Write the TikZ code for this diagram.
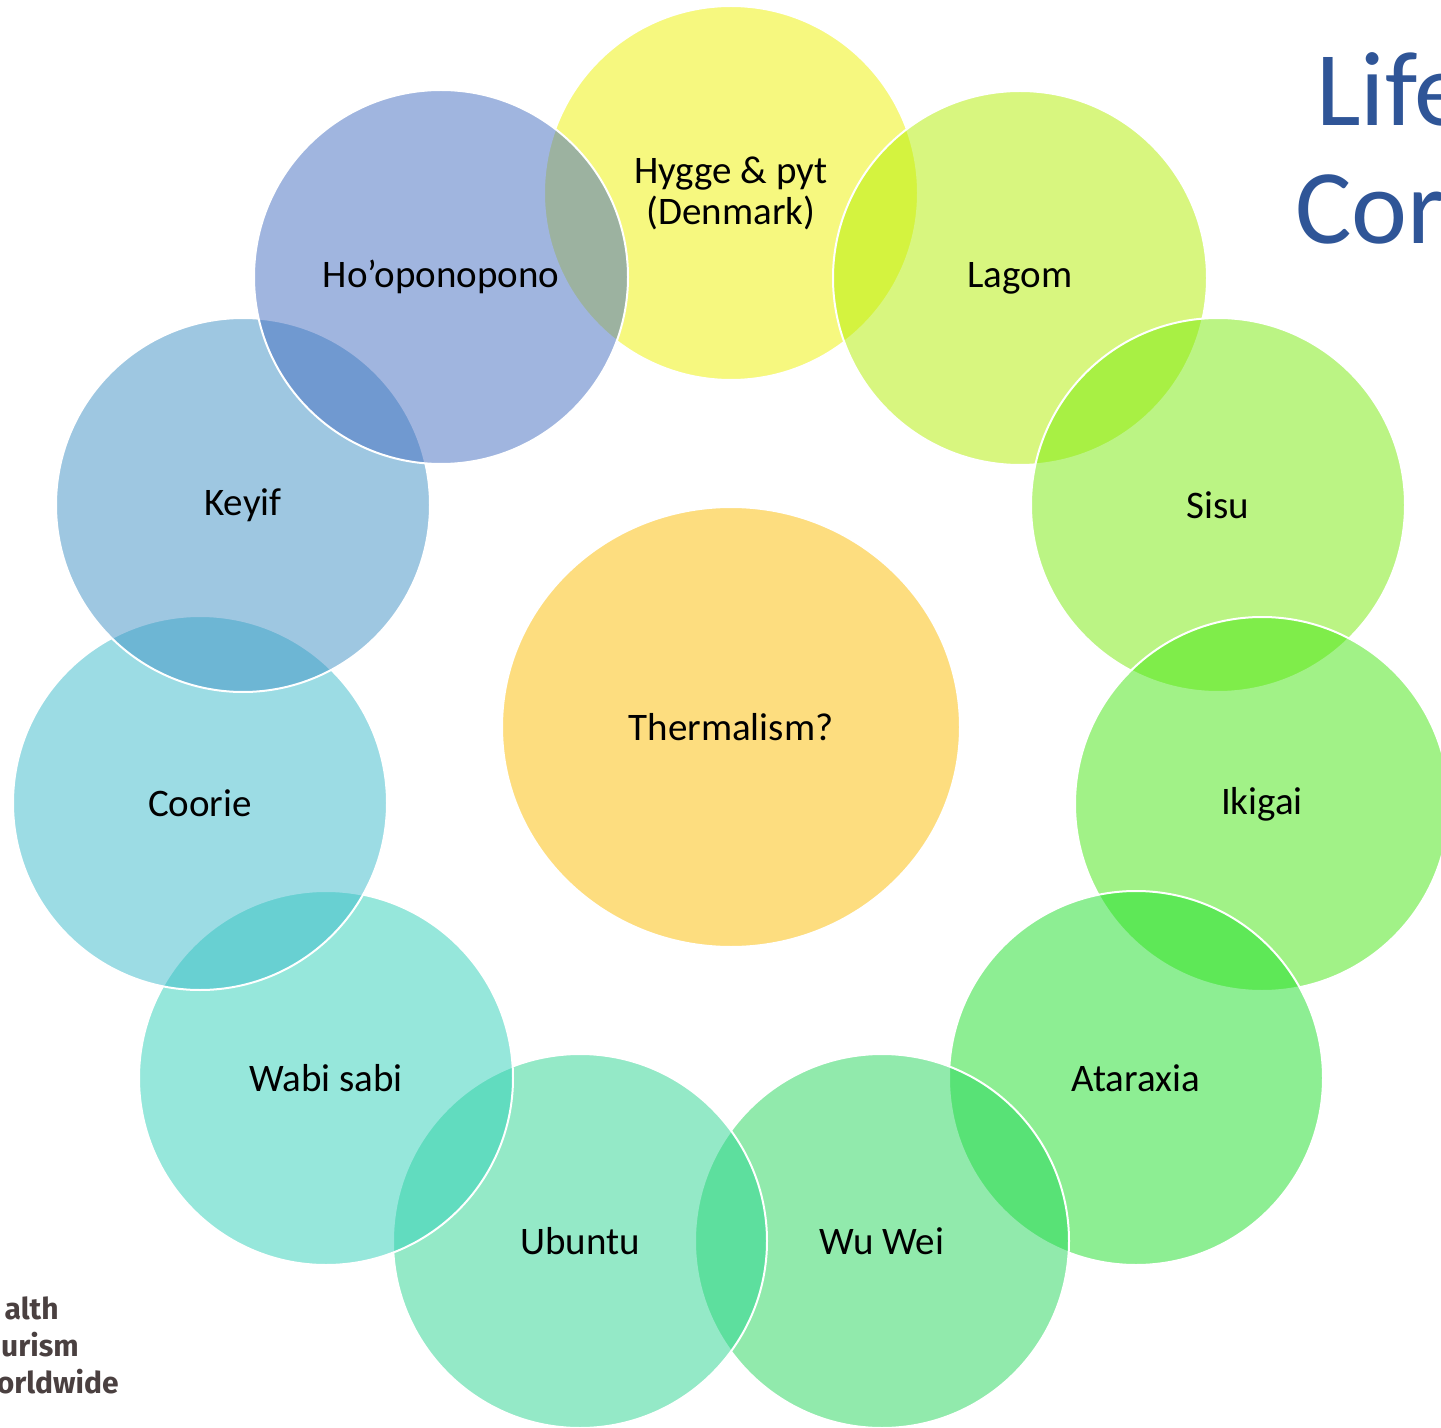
\documentclass[tikz,border=0pt]{standalone}
\usepackage{fontspec}
\setmainfont{Carlito}
\newfontfamily\logofont{Fira Sans}
\usetikzlibrary{shapes.geometric}
\definecolor{cHygge}{RGB}{239,243,0}
\definecolor{cLagom}{RGB}{179,239,0}
\definecolor{cSisu}{RGB}{121,235,11}
\definecolor{cIkigai}{RGB}{69,231,17}
\definecolor{cAtaraxia}{RGB}{29,223,41}
\definecolor{cWuwei}{RGB}{37,215,91}
\definecolor{cUbuntu}{RGB}{43,213,145}
\definecolor{cWabi}{RGB}{47,209,185}
\definecolor{cCoorie}{RGB}{59,187,203}
\definecolor{cKeyif}{RGB}{63,145,197}
\definecolor{cHoo}{RGB}{67,109,193}
\definecolor{cTherm}{RGB}{253,189,1}
\definecolor{titleblue}{RGB}{47,85,151}
\definecolor{logogray}{RGB}{74,64,64}
\tikzset{
  bubble/.style={circle, minimum size=187pt, inner sep=0pt, draw=white, line width=1pt,
    fill=#1, fill opacity=0.5, text opacity=1, text=black, align=center,
    font=\fontsize{19.5}{20.5}\selectfont},
  centre/.style={ellipse, minimum width=229pt, minimum height=220pt, inner sep=0pt, draw=white,
    line width=1pt, fill=cTherm, fill opacity=0.5, text opacity=1, text=black,
    font=\fontsize{19.5}{20.5}\selectfont},
  titletext/.style={anchor=base west, inner sep=0pt, text=titleblue, font=\fontsize{53}{60}\selectfont},
  logotext/.style={anchor=base east, inner sep=0pt, text=logogray, font=\logofont\bfseries\fontsize{15}{17}\selectfont}
}
\begin{document}
\begin{tikzpicture}[x=0.5pt,y=-0.5pt]
\useasboundingbox (0,0) rectangle (1441,1428);
\clip (0,0) rectangle (1441,1428);
\fill[white] (0,0) rectangle (1441,1428);
\node[titletext] (t1) at (1316,126) {Life};
\node[titletext] (t2) at (1295,244) {Cor};
\node[logotext] (l1) at (59,1319) {alth};
\node[logotext] (l2) at (79,1356) {urism};
\node[logotext] (l3) at (119,1393) {orldwide};
\node[centre] (therm) at (731,727) {Thermalism?};
\node[bubble=cHygge] (hygge) at (731,193) {Hygge \& pyt\\(Denmark)};
\node[bubble=cLagom] (lagom) at (1020,278) {Lagom};
\node[bubble=cSisu] (sisu) at (1218,505) {Sisu};
\node[bubble=cIkigai] (ikigai) at (1262,804) {Ikigai};
\node[bubble=cAtaraxia] (ataraxia) at (1136,1078) {Ataraxia};
\node[bubble=cWuwei] (wuwei) at (882,1241) {Wu Wei};
\node[bubble=cUbuntu] (ubuntu) at (580,1241) {Ubuntu};
\node[bubble=cWabi] (wabi) at (326,1078) {Wabi sabi};
\node[bubble=cCoorie] (coorie) at (200,803) {Coorie};
\node[bubble=cKeyif] (keyif) at (243,505) {Keyif};
\node[bubble=cHoo] (hoo) at (441,277) {Ho’oponopono};
\end{tikzpicture}
\end{document}
